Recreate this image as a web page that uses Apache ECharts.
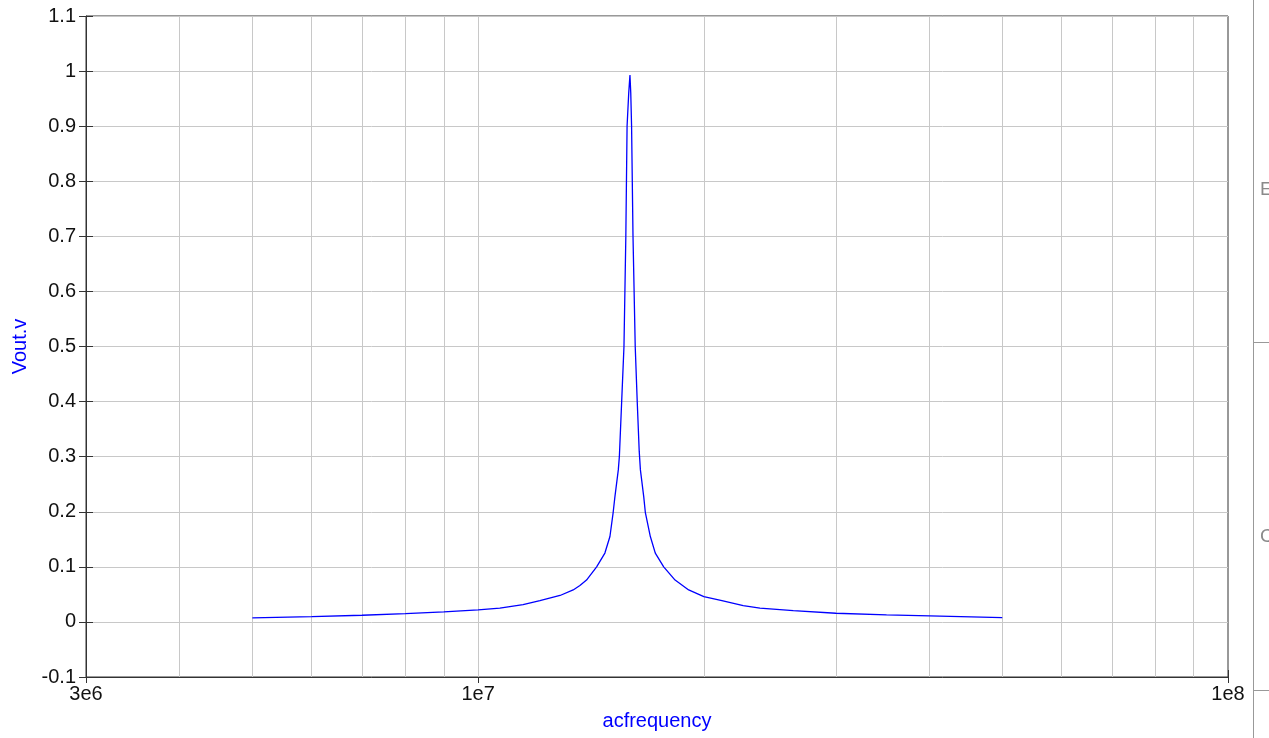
<!DOCTYPE html>
<html>
<head>
<meta charset="utf-8">
<script src="https://cdn.jsdelivr.net/npm/echarts@6/dist/echarts.min.js"></script>
<style>
html,body{margin:0;padding:0;background:#fff;}
#chart{width:1269px;height:738px;}
</style>
</head>
<body>
<div id="chart"></div>
<script>
// Frequency (Hz) sample points
const freqHz = [5e6, 6e6, 7e6, 8e6, 9e6, 1e7, 1.069e7, 1.148e7, 1.209e7, 1.286e7, 1.339e7, 1.367e7, 1.395e7, 1.439e7, 1.476e7, 1.499e7, 1.514e7, 1.522e7, 1.538e7, 1.543e7, 1.554e7, 1.565e7, 1.574e7, 1.580e7, 1.588e7, 1.594e7, 1.598e7, 1.602e7, 1.609e7, 1.620e7, 1.630e7, 1.640e7, 1.646e7, 1.663e7, 1.671e7, 1.697e7, 1.723e7, 1.768e7, 1.831e7, 1.909e7, 2e7, 2.114e7, 2.257e7, 2.376e7, 2.632e7, 3e7, 3.505e7, 4e7, 5e7];
// Vout.v values at those frequencies
const voutV = [0.0073, 0.0097, 0.0121, 0.0151, 0.0182, 0.0218, 0.0249, 0.0315, 0.0387, 0.048, 0.058, 0.066, 0.076, 0.100, 0.125, 0.155, 0.199, 0.227, 0.276, 0.300, 0.400, 0.500, 0.700, 0.900, 0.960, 0.993, 0.960, 0.900, 0.700, 0.500, 0.400, 0.310, 0.276, 0.227, 0.199, 0.155, 0.125, 0.100, 0.076, 0.058, 0.046, 0.0387, 0.0296, 0.0249, 0.0206, 0.0157, 0.0127, 0.0109, 0.0079];
// Axis ranges and grid frequencies
const xMin = 3e6, xMax = 1e8;
const yMin = -0.1, yMax = 1.1, yStep = 0.1;
const gridFreqs = [4e6, 5e6, 6e6, 7e6, 8e6, 9e6, 1e7, 2e7, 3e7, 4e7, 5e7, 6e7, 7e7, 8e7, 9e7];
const xTitle = 'acfrequency';
const yTitle = 'Vout.v';

const seriesData = freqHz.map((f, i) => [f, voutV[i]]);
const FONT = 'Liberation Sans, Arial, Helvetica, sans-serif';

function fmtExp(v) {
  const e = Math.floor(Math.log10(v) + 1e-6);
  const m = Math.round(v / Math.pow(10, e));
  return m + 'e' + e;
}
function fmtY(v) {
  const r = Math.round(v * 10) / 10;
  return String(r);
}

const chart = echarts.init(document.getElementById('chart'), null, {renderer: 'canvas'});
chart.setOption({
  animation: false,
  backgroundColor: '#ffffff',
  grid: {left: 86, right: 41, top: 16, bottom: 61, show: true, borderColor: '#333', borderWidth: 1, backgroundColor: 'transparent'},
  xAxis: [{
    type: 'log', logBase: 10, min: xMin, max: xMax,
    name: xTitle, nameLocation: 'middle', nameGap: 34,
    nameTextStyle: {color: '#0000ff', fontFamily: FONT, fontSize: 20},
    axisLine: {show: true, onZero: false, lineStyle: {color: '#333', width: 1}},
    axisTick: {show: true, length: 6, lineStyle: {color: '#333'}},
    axisLabel: {formatter: fmtExp, color: '#111', fontFamily: FONT, fontSize: 20, margin: 7, showMinLabel: true, showMaxLabel: true},
    splitLine: {show: false}
  }, {
    type: 'log', logBase: 10, min: xMin, max: xMax, position: 'bottom',
    axisLine: {show: false, onZero: false},
    axisTick: {show: true, inside: true, length: 7, lineStyle: {color: '#333'}},
    axisLabel: {show: false},
    splitLine: {show: false}
  }],
  yAxis: [{
    type: 'value', min: yMin, max: yMax, interval: yStep,
    name: yTitle, nameLocation: 'middle', nameGap: 56,
    nameTextStyle: {color: '#0000ff', fontFamily: FONT, fontSize: 20},
    axisLine: {show: true, onZero: false, lineStyle: {color: '#333', width: 1}},
    axisTick: {show: true, length: 7, lineStyle: {color: '#333'}},
    axisLabel: {formatter: fmtY, color: '#111', fontFamily: FONT, fontSize: 20, margin: 10},
    splitLine: {show: true, lineStyle: {color: '#c8c8c8', width: 1}}
  }, {
    type: 'value', min: yMin, max: yMax, interval: yStep, position: 'left',
    axisLine: {show: false, onZero: false},
    axisTick: {show: true, inside: true, length: 7, lineStyle: {color: '#333'}},
    axisLabel: {show: false},
    splitLine: {show: false}
  }],
  series: [{
    type: 'line',
    data: seriesData,
    xAxisIndex: 0, yAxisIndex: 0,
    showSymbol: false,
    smooth: false,
    lineStyle: {color: '#0000ff', width: 1.3},
    itemStyle: {color: '#0000ff'},
    z: 3,
    markLine: {
      silent: true,
      symbol: ['none', 'none'],
      label: {show: false},
      lineStyle: {color: '#c8c8c8', width: 1, type: 'solid'},
      data: gridFreqs.map(f => ({xAxis: f})),
      z: 1
    }
  }],
  graphic: [
    {type: 'line', silent: true, shape: {x1: 1253.5, y1: 0, x2: 1253.5, y2: 738}, style: {stroke: '#999', lineWidth: 1}},
    {type: 'line', silent: true, shape: {x1: 1253, y1: 342.5, x2: 1269, y2: 342.5}, style: {stroke: '#999', lineWidth: 1}},
    {type: 'line', silent: true, shape: {x1: 1253, y1: 690.5, x2: 1269, y2: 690.5}, style: {stroke: '#999', lineWidth: 1}},
    {type: 'text', silent: true, left: 1260, top: 180, style: {text: 'E', fill: '#8a8a8a', font: '19px ' + FONT}},
    {type: 'text', silent: true, left: 1260, top: 527, style: {text: 'C', fill: '#8a8a8a', font: '19px ' + FONT}}
  ]
});
</script>
</body>
</html>
